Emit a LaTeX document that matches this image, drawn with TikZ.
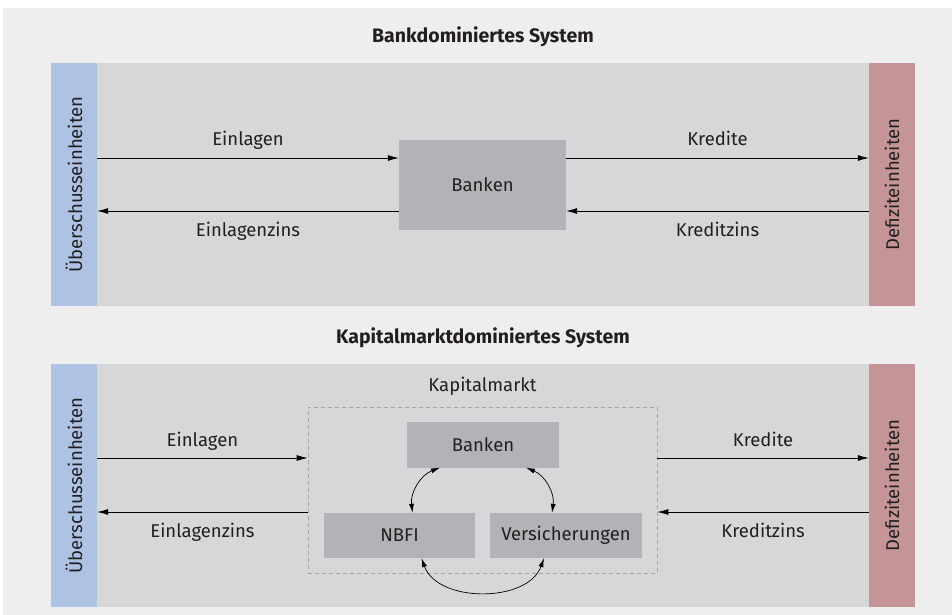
\documentclass[tikz,border=0pt]{standalone}
\usepackage{fontspec}
\setmainfont{Fira Sans}
\usetikzlibrary{arrows.meta}
\definecolor{bgc}{HTML}{EEEEEE}
\definecolor{panelc}{HTML}{D6D7D9}
\definecolor{boxc}{HTML}{B2B3B6}
\definecolor{bluec}{HTML}{AEC3E4}
\definecolor{redc}{HTML}{C49497}
\definecolor{txtc}{HTML}{231F20}
\begin{document}
\begin{tikzpicture}[x=1pt,y=-1pt,font=\fontsize{18.5}{22}\selectfont,text=txtc,
    panel/.style={fill=panelc,minimum width=772pt,minimum height=243pt,inner sep=0pt},
    side/.style={minimum width=46pt,minimum height=243pt,inner sep=0pt},
    box/.style={fill=boxc,inner sep=0pt},
    up/.style={midway,anchor=base,yshift=12pt},
    down/.style={midway,anchor=base,yshift=-25.5pt},
    flow/.style={-{Latex[length=11pt,width=6pt]},line width=0.8pt},
    ring/.style={{Latex[length=9pt,width=5pt]}-{Latex[length=9pt,width=5pt]},line width=0.7pt}]
  \useasboundingbox (0,0) rectangle (952,615);
  \fill[bgc] (3,8) rectangle (952,615);

  % Bankdominiertes System
  \node[font=\fontsize{19.5}{23}\selectfont\bfseries] (t1) at (483,37){Bankdominiertes System};
  \node[panel] (p1) at (483,184.5){};
  \node[side,fill=bluec] (ue1) at (74,184.5){};
  \node[side,fill=redc] (de1) at (892,184.5){};
  \node[rotate=90] (ue1l) at (ue1.center){Überschusseinheiten};
  \node[rotate=90] (de1l) at (de1.center){Defizit\-einheiten};
  \node[box,minimum width=167pt,minimum height=90pt] (b1) at (482.5,184.5){Banken};

  \draw[flow] ([yshift=26.5pt]ue1.east) -- node[up]{Einlagen} ([yshift=26.5pt]ue1.east -| b1.west);
  \draw[flow] ([yshift=-26.5pt]ue1.east -| b1.west) -- node[down]{Einlagenzins} ([yshift=-26.5pt]ue1.east);
  \draw[flow] ([yshift=26.5pt]b1.east) -- node[up]{Kredite} ([yshift=26.5pt]b1.east -| de1.west);
  \draw[flow] ([yshift=-26.5pt]de1.west) -- node[down]{Kreditzins} ([yshift=-26.5pt]de1.west -| b1.east);

  % Kapitalmarktdominiertes System
  \node[font=\fontsize{19.5}{23}\selectfont\bfseries] (t2) at (483,338){Kapitalmarktdominiertes System};
  \node[panel] (p2) at (483,485.5){};
  \node[side,fill=bluec] (ue2) at (74,485.5){};
  \node[side,fill=redc] (de2) at (892,485.5){};
  \node[rotate=90] (ue2l) at (ue2.center){Überschusseinheiten};
  \node[rotate=90] (de2l) at (de2.center){Defizit\-einheiten};
  \node[draw=black!35,dashed,dash pattern=on 4pt off 3pt,line width=0.6pt,minimum width=349pt,minimum height=166pt] (km) at (482.5,490){};
  \node[anchor=base,inner sep=0pt] (kml) at ([yshift=15pt]km.north){Kapitalmarkt};
  \node[box,minimum width=152pt,minimum height=46pt] (b2) at (483,444.5){Banken};
  \node[box,minimum width=151pt,minimum height=45pt] (nbfi) at (399.5,535.5){NBFI};
  \node[box,minimum width=152pt,minimum height=45pt] (vers) at (566,535.5){Versicherungen};

  \draw[flow] ([yshift=27.5pt]ue2.east) -- node[up]{Einlagen} ([yshift=27.5pt]ue2.east -| km.west);
  \draw[flow] ([yshift=-26.5pt]ue2.east -| km.west) -- node[down]{Einlagenzins} ([yshift=-26.5pt]ue2.east);
  \draw[flow] ([yshift=27.5pt]de2.west -| km.east) -- node[up]{Kredite} ([yshift=27.5pt]de2.west);
  \draw[flow] ([yshift=-26.5pt]de2.west) -- node[down]{Kreditzins} ([yshift=-26.5pt]de2.west -| km.east);

  \draw[ring] ([xshift=-43pt]b2.south) to[bend right=38] ([xshift=13pt]nbfi.north);
  \draw[ring] ([xshift=43pt]b2.south) to[bend left=38] ([xshift=-14pt]vers.north);
  \draw[ring] ([xshift=22pt]nbfi.south) to[bend right=70] ([xshift=-22pt]vers.south);
\end{tikzpicture}
\end{document}
